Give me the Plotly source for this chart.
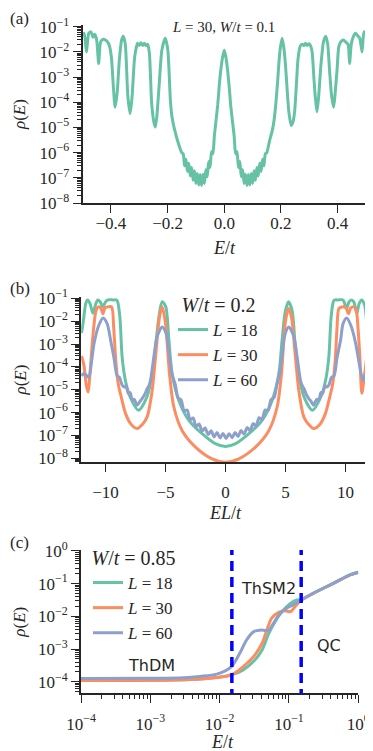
import plotly.graph_objects as go

# ---------------- data ----------------
# (a) L = 30, W/t = 0.1 : rho(E) against E/t
a_E = [-0.500, -0.494, -0.486, -0.478, -0.470, -0.463, -0.457, -0.450, -0.443, -0.436,
       -0.426, -0.416, -0.406, -0.398, -0.391, -0.385, -0.378, -0.370, -0.362, -0.356,
       -0.349, -0.340, -0.332, -0.325, -0.316, -0.306, -0.300, -0.294, -0.288, -0.282,
       -0.276, -0.270, -0.264, -0.256, -0.248, -0.243, -0.238, -0.230, -0.220, -0.208,
       -0.199, -0.190, -0.184, -0.175, -0.160, -0.150, -0.145, -0.140, -0.135, -0.130,
       -0.125, -0.120, -0.115, -0.110, -0.105, -0.100, -0.095, -0.090, -0.085, -0.080,
       -0.075, -0.070, -0.065, -0.060, -0.055, -0.050, -0.045, -0.040, -0.035, -0.030,
       -0.023, -0.018, -0.012, -0.006, 0.000, 0.006, 0.012, 0.018, 0.023, 0.030,
       0.035, 0.040, 0.045, 0.050, 0.055, 0.060, 0.065, 0.070, 0.075, 0.080,
       0.085, 0.090, 0.095, 0.100, 0.105, 0.110, 0.115, 0.120, 0.125, 0.130,
       0.135, 0.140, 0.145, 0.150, 0.160, 0.170, 0.177, 0.182, 0.188, 0.193,
       0.198, 0.204, 0.210, 0.216, 0.222, 0.228, 0.236, 0.242, 0.248, 0.254,
       0.260, 0.268, 0.275, 0.281, 0.287, 0.293, 0.299, 0.305, 0.310, 0.316,
       0.321, 0.327, 0.333, 0.341, 0.350, 0.358, 0.365, 0.372, 0.379, 0.386,
       0.392, 0.398, 0.404, 0.412, 0.421, 0.430, 0.437, 0.442, 0.448, 0.455,
       0.463, 0.470, 0.478, 0.486, 0.493, 0.500]
a_rho = [4.5e-2, 5.5e-2, 1.0e-2, 5.5e-2, 6.3e-2, 3.8e-2, 5.0e-2, 3.0e-2, 3.5e-3, 2.5e-2,
         3.2e-2, 2.8e-2, 1.9e-2, 6e-3, 4e-4, 6.3e-5, 2.2e-4, 5e-3, 3.0e-2, 4.2e-2,
         2.0e-2, 1.7e-4, 3.5e-5, 1.7e-4, 6.3e-3, 2.2e-2, 1.8e-2, 2.3e-2, 1.8e-2, 2.2e-2,
         1.8e-2, 2.0e-2, 8.7e-3, 9e-5, 1.6e-5, 1.05e-5, 2.6e-5, 4.1e-4, 1.2e-2, 3.5e-2,
         1.2e-2, 1.2e-4, 2.5e-5, 8e-6, 2e-6, 1.0e-6, 9e-7, 3.0e-7, 5.5e-7, 1.8e-7,
         3.8e-7, 1.2e-7, 2.6e-7, 8e-8, 1.9e-7, 6e-8, 1.5e-7, 5.2e-8, 1.35e-7, 5e-8,
         1.4e-7, 6e-8, 2.1e-7, 1.1e-7, 4.5e-7, 2.6e-7, 1.1e-6, 9e-7, 4.5e-6, 1.5e-5,
         8e-5, 4.1e-4, 2e-3, 6e-3, 1.17e-2, 6e-3, 1.8e-3, 3.5e-4, 7e-5, 1.4e-5,
         4.5e-6, 9e-7, 1.1e-6, 2.6e-7, 4.5e-7, 1.1e-7, 2.1e-7, 6e-8, 1.4e-7, 5e-8,
         1.35e-7, 5.2e-8, 1.5e-7, 6e-8, 1.9e-7, 8e-8, 2.6e-7, 1.2e-7, 3.8e-7, 1.8e-7,
         5.5e-7, 3.0e-7, 9e-7, 1.0e-6, 3e-6, 8e-6, 2.5e-5, 9e-5, 6e-4, 4e-3,
         1.5e-2, 3.5e-2, 1.5e-2, 3e-3, 3e-4, 4e-5, 1.2e-5, 1.6e-5, 4e-5, 4e-4,
         5e-3, 1.7e-2, 2.0e-2, 1.8e-2, 2.2e-2, 1.8e-2, 2.1e-2, 1.7e-2, 1.0e-2, 1e-3,
         1.7e-4, 4.2e-5, 1.7e-4, 3e-3, 2.5e-2, 4.2e-2, 2.0e-2, 1.5e-3, 1.7e-4, 6.3e-5,
         3e-4, 2e-3, 1.6e-2, 2.6e-2, 3.0e-2, 2.4e-2, 2.0e-2, 3.5e-3, 2.0e-2, 4.0e-2,
         5.5e-2, 4.5e-2, 3.5e-2, 1.0e-2, 6.3e-2, 5.5e-2]

# (b) W/t = 0.2 : rho(E) against E L / t
b_EL_18 = [-12.0, -11.85, -11.65, -11.5, -11.3, -11.05, -10.85, -10.65, -10.45, -10.22,
           -10.0, -9.8, -9.4, -9.05, -8.9, -8.78, -8.62, -8.35, -7.95, -7.25,
           -6.55, -6.1, -5.83, -5.55, -5.28, -4.98, -4.72, -4.45, -3.9, -3.05,
           -1.95, -0.85, 0.0, 0.85, 1.95, 3.05, 3.9, 4.45, 4.72, 4.98,
           5.25, 5.55, 5.82, 6.1, 6.55, 7.25, 7.95, 8.35, 8.62, 8.78,
           8.9, 9.05, 9.4, 9.8, 10.1, 10.3, 10.5, 10.7, 10.95, 11.15,
           11.37, 11.6, 11.78, 11.95, 12.05]
b_rho_18 = [3e-3, 1e-2, 6e-2, 8.5e-2, 6e-2, 2.2e-2, 5e-2, 8.5e-2, 7e-2, 4.3e-2,
            7e-2, 8.5e-2, 8.5e-2, 8.2e-2, 4e-2, 1e-2, 2.8e-4, 2.6e-5, 4.8e-6, 1.26e-6,
            4.8e-6, 5.1e-5, 7.6e-4, 1.55e-2, 7e-2, 4.3e-2, 1.5e-3, 5.1e-5, 3.5e-6, 4.6e-7,
            1.2e-7, 4.4e-8, 3.3e-8, 4.4e-8, 1.2e-7, 4.6e-7, 3.5e-6, 5.1e-5, 1.5e-3, 2.5e-2,
            7e-2, 3e-2, 7.6e-4, 5.1e-5, 4.8e-6, 1.26e-6, 4.8e-6, 2.6e-5, 2.8e-4, 1e-2,
            4e-2, 8.2e-2, 8.5e-2, 8.5e-2, 3.6e-2, 7e-2, 8.5e-2, 7e-2, 2.2e-2, 6e-2,
            8.5e-2, 5e-2, 8e-3, 4e-4, 1e-4]

b_EL_30 = [-12.0, -11.8, -11.6, -11.45, -11.3, -11.1, -10.95, -10.8, -10.6, -10.4,
           -10.22, -10.05, -9.85, -9.5, -9.32, -9.15, -8.95, -8.6, -8.33, -7.9,
           -7.37, -6.9, -6.53, -6.11, -5.78, -5.5, -5.28, -5.0, -4.67, -4.31,
           -3.62, -2.5, -1.12, 0.0, 1.12, 2.5, 3.62, 4.31, 4.67, 4.98,
           5.25, 5.5, 5.78, 6.11, 6.53, 6.9, 7.35, 7.9, 8.33, 8.6,
           8.95, 9.15, 9.3, 9.45, 9.7, 10.05, 10.25, 10.45, 10.7, 10.9,
           11.05, 11.2, 11.37, 11.55, 11.78, 11.95, 12.05]
b_rho_30 = [3e-4, 1.15e-4, 1.5e-5, 8e-6, 5e-5, 1.2e-3, 8e-3, 2.8e-2, 4.2e-2, 3.8e-2,
            2.1e-2, 3.8e-2, 4.2e-2, 4.2e-2, 5e-3, 2e-4, 1.9e-5, 3e-6, 9e-7, 3.2e-7,
            2e-7, 3.2e-7, 6.5e-7, 9.5e-6, 5.4e-4, 1.55e-2, 4.3e-2, 8e-3, 5.1e-5, 1.8e-6,
            1.66e-7, 3.1e-8, 9.5e-9, 6.8e-9, 9.5e-9, 3.1e-8, 1.66e-7, 1.8e-6, 5.1e-5, 8e-3,
            3.6e-2, 1.55e-2, 5.4e-4, 9.5e-6, 6.5e-7, 3.2e-7, 2e-7, 3.2e-7, 9e-7, 3e-6,
            1.9e-5, 2e-4, 5e-3, 3.5e-2, 4.2e-2, 3.8e-2, 2.1e-2, 3.8e-2, 4.2e-2, 3e-2,
            5e-3, 3e-4, 7e-6, 3e-5, 3e-4, 5e-3, 1.8e-2]

b_EL_60 = [-12.0, -11.85, -11.65, -11.4, -11.15, -10.95, -10.56, -10.2, -9.86, -9.58,
           -9.3, -9.03, -8.85, -8.62, -8.45, -8.3, -8.1, -7.95, -7.78, -7.6,
           -7.37, -7.15, -6.95, -6.75, -6.53, -6.38, -6.25, -5.97, -5.7, -5.28,
           -4.95, -4.67, -4.45, -4.2, -3.95, -3.7, -3.45, -3.2, -2.95, -2.7,
           -2.45, -2.2, -1.95, -1.7, -1.45, -1.2, -0.95, -0.7, -0.45, -0.2,
           0.05, 0.3, 0.55, 0.8, 1.05, 1.3, 1.55, 1.8, 2.05, 2.3,
           2.55, 2.8, 3.05, 3.3, 3.55, 3.8, 4.05, 4.3, 4.5, 4.7,
           4.98, 5.28, 5.7, 5.97, 6.25, 6.4, 6.55, 6.75, 6.95, 7.15,
           7.35, 7.6, 7.78, 7.95, 8.1, 8.3, 8.45, 8.62, 8.85, 9.05,
           9.3, 9.6, 9.8, 10.1, 10.45, 10.85, 11.1, 11.35, 11.5, 11.7,
           11.9, 12.05]
b_rho_60 = [4e-5, 5e-5, 4.5e-5, 3.5e-5, 2e-4, 1.1e-3, 6.6e-3, 1.38e-2, 7.6e-3, 1.5e-3,
            2.5e-4, 4e-5, 3.5e-5, 1.6e-5, 1.3e-5, 1.5e-5, 6.8e-6, 7.5e-6, 3.5e-6, 3.8e-6,
            2.1e-6, 3e-6, 4.1e-6, 6e-6, 1.1e-5, 1.5e-5, 2.6e-5, 2.8e-4, 2.1e-3, 5.6e-3,
            2.9e-3, 2.8e-4, 4.5e-5, 1.8e-5, 4.4e-6, 3.6e-6, 1.23e-6, 1.29e-6, 4.9e-7, 5.8e-7,
            2.45e-7, 3.2e-7, 1.55e-7, 2.1e-7, 1.1e-7, 1.6e-7, 8.7e-8, 1.35e-7, 7.8e-8, 1.23e-7,
            7.4e-8, 1.2e-7, 8e-8, 1.35e-7, 9e-8, 1.65e-7, 1.15e-7, 2.2e-7, 1.6e-7, 3.3e-7,
            2.6e-7, 6e-7, 5e-7, 1.3e-6, 1.25e-6, 3.7e-6, 4.5e-6, 1.8e-5, 4.5e-5, 2.8e-4,
            2.9e-3, 5.6e-3, 2.1e-3, 2.8e-4, 2.6e-5, 1.5e-5, 1.1e-5, 6e-6, 4.1e-6, 3e-6,
            2.1e-6, 3.8e-6, 3.5e-6, 7.5e-6, 6.8e-6, 1.5e-5, 1.3e-5, 1.6e-5, 3.5e-5, 4e-5,
            2.5e-4, 1.5e-3, 7.6e-3, 1.38e-2, 6.6e-3, 1.1e-3, 2e-4, 4e-5, 2.6e-5, 4.5e-5,
            5e-5, 1.4e-4]

# (c) W/t = 0.85 : rho(E) against E/t (log-log)
c_E_18 = [1e-4, 1e-3, 5.2e-3, 1.48e-2, 2.19e-2, 3.1e-2, 4.1e-2, 5.0e-2, 6.3e-2, 7.9e-2,
          0.105, 0.129, 0.151, 0.251, 0.437, 0.759, 1.0]
c_rho_18 = [1.08e-4, 1.1e-4, 1.2e-4, 1.62e-4, 2.3e-4, 4.2e-4, 9.3e-4, 2.7e-3, 6.9e-3, 1.38e-2,
            2.5e-2, 3.16e-2, 3.3e-2, 5.75e-2, 0.102, 0.186, 0.224]
c_E_30 = [1e-4, 1e-3, 5.2e-3, 1.48e-2, 2.19e-2, 3.1e-2, 4.1e-2, 4.8e-2, 5.6e-2, 7.1e-2,
          8.7e-2, 0.105, 0.123, 0.151, 0.251, 0.437, 0.759, 1.0]
c_rho_30 = [1.08e-4, 1.1e-4, 1.2e-4, 1.62e-4, 2.9e-4, 5.9e-4, 1.5e-3, 3.8e-3, 8.7e-3, 1.32e-2,
            1.48e-2, 1.38e-2, 2.0e-2, 3.16e-2, 5.75e-2, 0.102, 0.186, 0.224]
c_E_60 = [1e-4, 1e-3, 3e-3, 5.2e-3, 9.1e-3, 1.48e-2, 1.95e-2, 2.45e-2, 3.1e-2, 4.1e-2,
          5.0e-2, 6.0e-2, 7.4e-2, 9.3e-2, 0.115, 0.151, 0.251, 0.437, 0.759, 1.0]
c_rho_60 = [1.25e-4, 1.27e-4, 1.32e-4, 1.45e-4, 1.7e-4, 2.9e-4, 7.4e-4, 1.9e-3, 3.4e-3, 3.8e-3,
            3.6e-3, 6.2e-3, 1.23e-2, 1.78e-2, 2.24e-2, 3.16e-2, 5.75e-2, 0.102, 0.186, 0.224]
c_bounds = [0.015, 0.15]
c_regions = ["ThDM", "ThSM2", "QC"]

colors = {18: "#66c2a5", 30: "#fc8d62", 60: "#8da0cb"}
SERIF = "Liberation Serif"
INK = "#262626"
# the page puts the figure 8 px in from the top-left corner, so the figure is
# made that much smaller and every page position below is shifted by 8 px
PAD = 8
W, H = 373 - PAD, 751 - PAD


def px_x(p):
    return max(p - PAD, 0) / W


def px_y(p):
    return 1 - (p - PAD) / H


def sup(k):
    return "10<sup>" + ("\u2212" + str(-k) if k < 0 else str(k)) + "</sup>"


def log_axis(kmin, kmax, rng, domain, anchor, standoff=0):
    return dict(
        type="log", range=rng, domain=domain, anchor=anchor,
        tickmode="array",
        tickvals=[10.0 ** k for k in range(kmin, kmax + 1)],
        ticktext=[sup(k) for k in range(kmin, kmax + 1)],
        ticks="outside", ticklen=8, tickwidth=1.3, tickcolor=INK,
        ticklabelstandoff=standoff,
        minor=dict(tickmode="array",
                   tickvals=[m * 10.0 ** k for k in range(kmin - 1, kmax + 1) for m in range(2, 10)],
                   ticks="outside", ticklen=4, tickwidth=1, tickcolor=INK),
        showline=True, linecolor=INK, linewidth=1.8,
        showgrid=False, zeroline=False, automargin=False,
        tickfont=dict(family=SERIF, size=17, color=INK),
    )


def lin_axis(rng, dtick, fmt, domain, anchor, standoff):
    return dict(
        range=rng, domain=domain, anchor=anchor,
        tick0=0, dtick=dtick, tickformat=fmt,
        ticks="outside", ticklen=8, tickwidth=1.3, tickcolor=INK,
        ticklabelstandoff=standoff,
        showline=True, linecolor=INK, linewidth=1.8,
        showgrid=False, zeroline=False, automargin=False,
        tickfont=dict(family=SERIF, size=17, color=INK),
    )


fig = go.Figure()

# panel (a)
fig.add_trace(go.Scatter(x=a_E, y=a_rho, mode="lines", showlegend=False,
                         line=dict(color=colors[18], width=3, shape="spline", smoothing=0.6),
                         xaxis="x", yaxis="y"))

# panel (b)
for L, xs, ys in [(18, b_EL_18, b_rho_18), (30, b_EL_30, b_rho_30), (60, b_EL_60, b_rho_60)]:
    fig.add_trace(go.Scatter(x=xs, y=ys, mode="lines", name="<i>L</i> = %d" % L,
                             line=dict(color=colors[L], width=3, shape="spline", smoothing=0.8),
                             xaxis="x2", yaxis="y2", legend="legend"))

# panel (c)
for L, xs, ys in [(18, c_E_18, c_rho_18), (30, c_E_30, c_rho_30), (60, c_E_60, c_rho_60)]:
    fig.add_trace(go.Scatter(x=xs, y=ys, mode="lines", name="<i>L</i> = %d" % L,
                             line=dict(color=colors[L], width=3, shape="spline", smoothing=0.8),
                             xaxis="x3", yaxis="y3", legend="legend2"))
for b in c_bounds:
    fig.add_trace(go.Scatter(x=[b, b], y=[1e-6, 10], mode="lines", showlegend=False,
                             line=dict(color="#0000ff", width=3.5, dash="10px,6px"),
                             xaxis="x3", yaxis="y3"))

legend_common = dict(
    bgcolor="rgba(0,0,0,0)", borderwidth=0, itemwidth=30,
    font=dict(family=SERIF, size=17, color=INK),
    xanchor="left", yanchor="top", tracegroupgap=0,
)

fig.update_layout(
    width=W, height=H,
    margin=dict(l=0, r=0, t=0, b=0),
    paper_bgcolor="white", plot_bgcolor="white",
    xaxis=lin_axis([-0.5, 0.5], 0.2, ".1f", [px_x(82.5), px_x(366)], "y", -4),
    yaxis=log_axis(-8, -1, [-8, -0.93], [px_y(203), px_y(25)], "x"),
    xaxis2=lin_axis([-12.03, 12.05], 5, "d", [px_x(81.2), px_x(370)], "y2", 5),
    yaxis2=log_axis(-8, -1, [-8.175, -0.93], [px_y(462.3), px_y(296.7)], "x2"),
    xaxis3=log_axis(-4, 0, [-4, 0], [px_x(81), px_x(358.3)], "y3", 6),
    yaxis3=log_axis(-4, 0, [-4.355, 0.03], [px_y(693.3), px_y(550)], "x3"),
    legend=dict(legend_common, x=px_x(173), y=px_y(286),
                title=dict(text="<i>W</i>/<i>t</i> = 0.2", side="top center",
                           font=dict(family=SERIF, size=20, color=INK))),
    legend2=dict(legend_common, x=px_x(88), y=px_y(539),
                 title=dict(text="<i>W</i>/<i>t</i> = 0.85", side="top center",
                            font=dict(family=SERIF, size=20, color=INK))),
)

ann = []


def text(x, y, s, size, family=SERIF, angle=0, xanchor="center"):
    ann.append(dict(x=px_x(x), y=px_y(y), xref="paper", yref="paper", text=s,
                    showarrow=False, xanchor=xanchor, yanchor="middle", textangle=angle,
                    font=dict(family=family, size=size, color=INK)))


# panel labels
text(0, 18, "(a)", 17, xanchor="left")
text(0, 288, "(b)", 17, xanchor="left")
text(0, 542, "(c)", 17, xanchor="left")
# axis titles
for yc in (114, 379.5, 621.7):
    text(20, yc, "<i>\u03c1</i>(<i>E</i>)", 17, angle=-90)
text(224, 248, "<i>E</i>/<i>t</i>", 18)
text(225, 513, "<i>EL</i>/<i>t</i>", 18)
text(222, 742, "<i>E</i>/<i>t</i>", 18)
# in-panel notes
text(223, 27, "<i>L</i> = 30, <i>W</i>/<i>t</i> = 0.1", 15)
for (x, y), s in zip([(151, 665), (268, 588), (329, 645)], c_regions):
    text(x, y, s, 16, family="DejaVu Sans")

fig.update_layout(annotations=ann)

fig.write_html("out.html")
